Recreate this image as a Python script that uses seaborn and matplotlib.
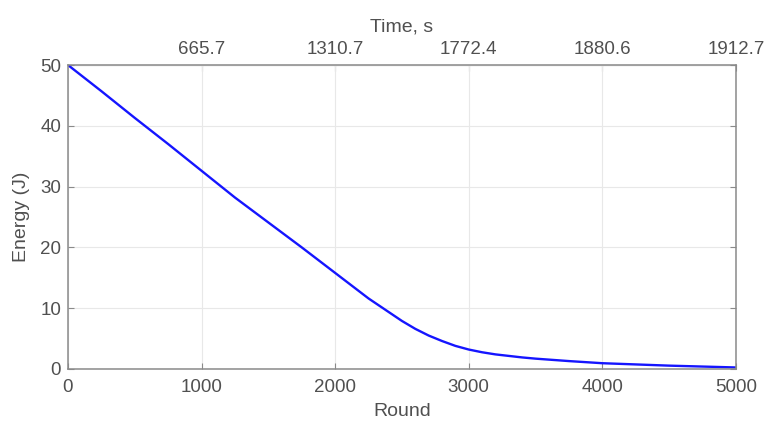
import numpy as np
import seaborn as sns
import matplotlib.pyplot as plt

# values
rounds = [0, 250, 500, 750, 1000, 1250, 1500, 1750, 2000, 2250, 2500, 2600,
          2700, 2800, 2900, 3000, 3100, 3200, 3300, 3400, 3500, 3750, 4000,
          4250, 4500, 4750, 5000]
energy = [50, 45.7, 41.3, 37.0, 32.6, 28.2, 24.1, 20.0, 15.8, 11.6, 7.9, 6.6,
          5.5, 4.6, 3.8, 3.2, 2.75, 2.4, 2.15, 1.9, 1.7, 1.3, 0.95,
          0.75, 0.55, 0.4, 0.25]
round_ticks = [0, 1000, 2000, 3000, 4000, 5000]
energy_ticks = [0, 10, 20, 30, 40, 50]
time_ticks = [1000, 2000, 3000, 4000, 5000]
time_labels = ["665.7", "1310.7", "1772.4", "1880.6", "1912.7"]

sns.set_style("whitegrid")
plt.rcParams['font.family'] = ['Liberation Sans', 'DejaVu Sans']

txt = '#505050'
axc = '#8a8a8a'
fig = plt.figure(figsize=(7.69, 4.25), dpi=100)
ax = fig.add_axes([0.0884, 0.1318, 0.8686, 0.7152])

sns.lineplot(x=rounds, y=energy, ax=ax, color='#1515ff', linewidth=1.7)

ax.set_xlim(0, 5000)
ax.set_ylim(0, 50)
ax.set_xticks(round_ticks)
ax.set_yticks(energy_ticks)
ax.grid(True, color='#e8e8e8', linewidth=0.8)
for s in ax.spines.values():
    s.set_color(axc)
    s.set_linewidth(1.1)
ax.tick_params(direction='in', length=4, color=axc, labelcolor=txt,
               labelsize=13.5, right=True, left=True, bottom=True)
ax.tick_params(axis='x', pad=7)
ax.tick_params(axis='y', pad=5)
ax.set_xlabel("Round", fontsize=14, color=txt, labelpad=5)
ax.set_ylabel("Energy (J)", fontsize=14, color=txt, labelpad=7)

top = ax.secondary_xaxis('top')
top.set_xticks(time_ticks)
top.set_xticklabels(time_labels)
top.tick_params(direction='in', length=4, color=axc, labelcolor=txt,
                labelsize=13.5, pad=5)
top.spines['top'].set_color(axc)
top.set_xlabel("Time, s", fontsize=14, color=txt, labelpad=7)

fig.savefig("out.png", dpi=100, facecolor='white')
